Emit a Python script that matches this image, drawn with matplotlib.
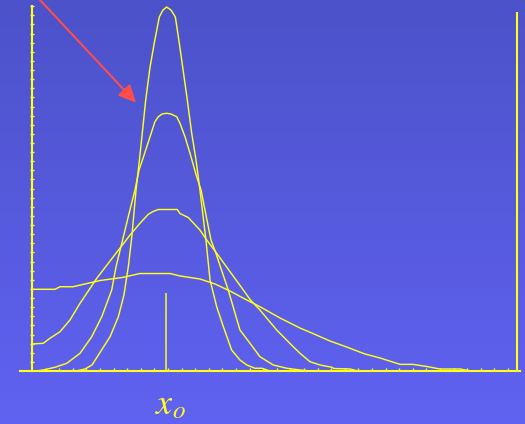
import numpy as np
import matplotlib
matplotlib.use("Agg")
import matplotlib.pyplot as plt

plt.rcParams['mathtext.fontset'] = 'stix'

# starting point of the walkers (in tick units along the bottom axis)
x0 = 9.85
x0_height = 8.55

# four density curves (x in tick units, y in tick units)
x_a = [0, 3.24, 3.90, 4.41, 4.88, 5.74, 6.35, 6.76, 7.10, 7.35, 7.65, 7.90, 8.11, 8.36,
       8.68, 8.99, 9.36, 9.63, 9.90, 10.22, 10.54, 10.83, 11.08, 11.42, 11.74, 12.06,
       12.35, 12.79, 13.09, 13.58, 14.07, 14.68, 15.29, 15.79, 16.40, 16.91, 17.50, 34.78]
y_a = [0, 0, 0.22, 0.66, 1.75, 3.76, 5.95, 8.33, 11.62, 14.91, 19.85, 23.14, 26.10, 29.71,
       33.33, 35.96, 38.82, 39.58, 39.91, 39.58, 38.82, 35.96, 33.33, 29.71, 26.10, 23.14,
       19.85, 14.36, 9.98, 7.05, 4.86, 2.30, 1.21, 0.66, 0.30, 0.30, 0, 0]

x_b = [0, 0.29, 0.83, 1.69, 2.55, 3.53, 4.39, 5.13, 5.86, 6.18, 6.66, 7.11, 7.57, 7.87,
       8.20, 8.68, 9.04, 9.29, 9.56, 9.90, 10.22, 10.64, 10.88, 11.25, 11.62, 12.11, 12.43,
       12.79, 13.16, 13.49, 14.43, 15.29, 16.03, 16.76, 17.74, 18.73, 19.71, 20.44, 34.78]
y_b = [0, 0, 0.11, 0.41, 0.84, 1.94, 3.76, 5.95, 8.88, 11.44, 14.36, 17.11, 19.85, 22.04,
       23.50, 25.69, 27.34, 27.88, 28.18, 28.26, 28.18, 27.88, 27.16, 25.69, 23.87, 21.30, 19.85,
       17.11, 14.36, 13.05, 8.88, 4.50, 3.04, 1.57, 0.66, 0.30, 0.11, 0, 0]

x_c = [0, 0.83, 1.32, 2.06, 2.79, 3.53, 4.76, 5.98, 7.21, 7.94, 8.55, 8.90, 9.29, 10.68,
       10.88, 11.49, 12.35, 12.85, 13.58, 14.56, 15.54, 16.03, 16.76, 17.99, 19.21, 19.71,
       20.44, 21.18, 22.04, 22.21, 23.38, 23.97, 34.78]
y_c = [2.96, 3.04, 3.59, 4.31, 5.59, 7.42, 10.16, 12.53, 14.91, 16.20, 17.18, 17.49, 17.71, 17.71,
       17.27, 16.83, 15.46, 14.36, 12.91, 10.89, 8.88, 7.85, 6.69, 4.50, 2.66, 1.94,
       1.02, 0.66, 0.41, 0.27, 0.22, 0, 0]

x_d = [0, 1.69, 2.06, 3.01, 5.0, 6.69, 7.94, 10.15, 10.88, 12.35, 13.46, 14.56, 15.66, 16.76,
       18.24, 19.71, 20.66, 21.91, 23.14, 24.49, 25.59, 27.06, 28.01, 29.04, 30.0, 31.47,
       32.21, 34.78]
y_d = [8.96, 8.96, 9.24, 9.24, 9.92, 10.27, 10.69, 10.69, 10.42, 10.09, 9.54, 8.77, 7.89, 7.05,
       5.81, 4.71, 4.11, 3.29, 2.63, 1.86, 1.43, 0.73, 0.73, 0.49, 0.22, 0.22,
       0, 0]

yellow = '#ffff1a'
xlim = (-2.353, 36.25)
ylim = (-5.81, 40.68)

fig = plt.figure(figsize=(5.25, 4.24), dpi=100)
ax = fig.add_axes([0, 0, 1, 1])
ax.set_xlim(*xlim)
ax.set_ylim(*ylim)

# blue gradient background
top = np.array([0x4c, 0x52, 0xc9]) / 255
bottom = np.array([0x60, 0x62, 0xf1]) / 255
t = np.linspace(0, 1, 256)[:, None]
grad = (top * (1 - t) + bottom * t)[:, None, :]
ax.imshow(grad, extent=[xlim[0], xlim[1], ylim[0], ylim[1]], aspect='auto',
          interpolation='bicubic', zorder=0)

for xs, ys in [(x_a, y_a), (x_b, y_b), (x_c, y_c), (x_d, y_d)]:
    ax.plot(xs, ys, color=yellow, lw=1.05, zorder=3)

ax.vlines(x0, 0, x0_height, color=yellow, lw=1.1, zorder=3)
ax.vlines(35.64, 0, 39.4, color=yellow, lw=1.5, zorder=3)

for s in ['top', 'right']:
    ax.spines[s].set_visible(False)
ax.spines['left'].set_position(('data', 0))
ax.spines['left'].set_bounds(0, 40)
ax.spines['bottom'].set_position(('data', 0))
ax.spines['bottom'].set_bounds(-0.88, 35.88)
for s in ['left', 'bottom']:
    ax.spines[s].set_color(yellow)
    ax.spines[s].set_linewidth(1.5)
    ax.spines[s].set_zorder(4)

ax.set_xticks(range(1, 36))
ax.set_yticks(range(1, 41))
ax.tick_params(axis='x', direction='in', length=2.3, width=1.0, color=yellow, labelbottom=False)
ax.tick_params(axis='y', direction='inout', length=2.5, width=1.0, color=yellow, labelleft=False)

ax.annotate('', xy=(7.65, 29.42), xytext=(0.24, 41.23),
            arrowprops=dict(arrowstyle='-|>,head_length=1.05,head_width=0.5',
                            color='#ff4d4d', lw=1.5, shrinkA=0, shrinkB=0,
                            mutation_scale=10))

ax.text(10.2, -4.7, r'$x_o$', color=yellow, fontsize=26, ha='center', va='baseline')

fig.savefig('out.png', dpi=100)
